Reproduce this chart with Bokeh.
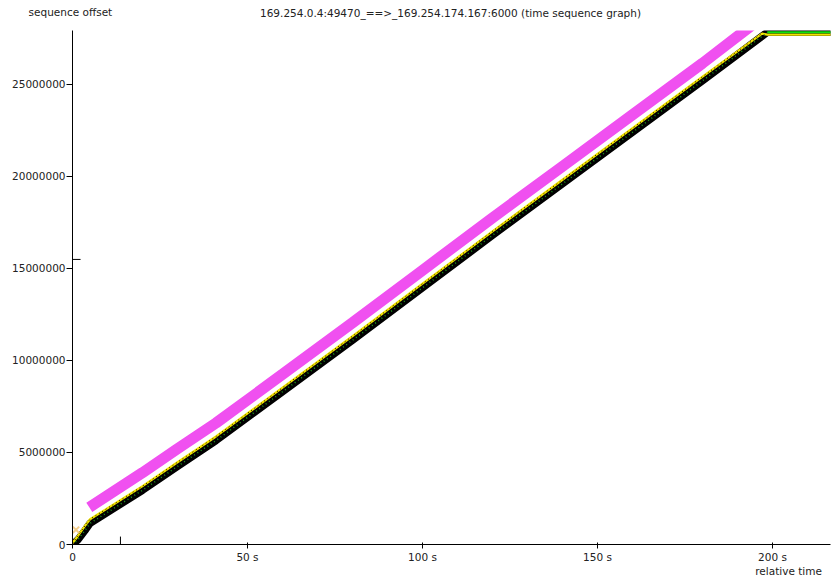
from bokeh.plotting import figure
from bokeh.models import Label, FixedTicker, NumeralTickFormatter, Range1d
from bokeh.embed import file_html
from bokeh.resources import INLINE

title_text = "169.254.0.4:49470_==>_169.254.174.167:6000 (time sequence graph)"
y_axis_title = "sequence offset"
x_axis_title = "relative time"

x_ticks = [0, 50, 100, 150, 200]
x_tick_labels = ["0", "50 s", "100 s", "150 s", "200 s"]
y_ticks = [0, 5000000, 10000000, 15000000, 20000000, 25000000]

# data segments (black band)
seg_time = [0, 1.5, 3.5, 5, 20, 30, 41, 60, 80, 100, 120, 140, 160, 180, 198.5, 217]
seg_seq = [0, 0.25e6, 0.75e6, 1.15e6, 2.95e6, 4.25e6, 5.65e6, 8.3e6, 11.1e6,
           13.95e6, 16.8e6, 19.6e6, 22.4e6, 25.2e6, 27.83e6, 27.83e6]

# ack line (yellow)
ack_time = [0, 1.5, 3.5, 5, 20, 30, 41, 60, 80, 100, 120, 140, 160, 180, 197, 198.5, 217]
ack_seq = [0.08e6, 0.45e6, 1.0e6, 1.37e6, 3.17e6, 4.47e6, 5.87e6, 8.52e6, 11.32e6,
           14.17e6, 17.02e6, 19.82e6, 22.62e6, 25.42e6, 27.76e6, 27.71e6, 27.71e6]

# advertised window (magenta band)
win_time = [4.8, 20, 30, 41, 60, 80, 100, 120, 140, 160, 180, 194]
win_seq = [2.02e6, 3.9e6, 5.2e6, 6.6e6, 9.25e6, 12.05e6, 14.9e6, 17.75e6,
           20.55e6, 23.35e6, 26.15e6, 28.2e6]

# SYN marker near origin
syn_time = [1.0]
syn_seq = [0.8e6]

# hash marks on the axes
xhash_time = [13.7]
yhash_seq = [15.49e6]

FONT = "DejaVu Sans"
TXT = "#222222"
FS = "10.5px"

p = figure(width=836, height=577, output_backend="svg", toolbar_location=None,
           x_range=Range1d(0, 216.57), y_range=Range1d(0, 27.93e6),
           min_border_left=72, min_border_right=6, min_border_top=30, min_border_bottom=33)
p.outline_line_color = None
p.grid.visible = False
p.background_fill_color = "white"
p.border_fill_color = "white"

# axes
p.xaxis.ticker = FixedTicker(ticks=x_ticks)
p.xaxis.major_label_overrides = {t: l for t, l in zip(x_ticks, x_tick_labels)}
p.yaxis.ticker = FixedTicker(ticks=y_ticks)
p.yaxis.formatter = NumeralTickFormatter(format="0")
for ax in (p.xaxis, p.yaxis):
    ax.axis_line_color = "black"
    ax.axis_line_width = 1
    ax.major_tick_line_color = "black"
    ax.minor_tick_line_color = None
    ax.major_label_text_font = FONT
    ax.major_label_text_font_size = FS
    ax.major_label_text_color = TXT
p.xaxis.major_tick_out = 4
p.xaxis.major_tick_in = 2
p.xaxis.major_label_standoff = 2
p.yaxis.major_tick_out = 6
p.yaxis.major_tick_in = 0
p.yaxis.major_label_standoff = 1

# magenta window band
p.line(win_time, win_seq, line_color="#f050f0", line_width=11, line_cap="butt")

# black data segment band
p.line(seg_time, seg_seq, line_color="black", line_width=7.5, line_join="round")

# yellow ack line with black dots, on the upper edge of the band
p.line(ack_time, ack_seq, line_color="#f2e200", line_width=2.2)
p.line(ack_time[:-2], ack_seq[:-2], line_color="black", line_width=1, line_dash="1 3")

# green dots inside black band
p.line(seg_time[:-1], seg_seq[:-1], line_color="#1f9a1f", line_width=1.5, line_dash="1 3")
p.line(seg_time[-2:], seg_seq[-2:], line_color="#10e010", line_width=2)

# SYN mark
p.scatter(syn_time, syn_seq, marker="x", size=9, line_color="#f3c577", line_width=2, alpha=0.85)

# hash marks
p.segment(x0=xhash_time, y0=[0], x1=xhash_time, y1=[0.43e6], line_color="black", line_width=1)
p.segment(x0=[0], y0=yhash_seq, x1=[2.3], y1=yhash_seq, line_color="black", line_width=1)

# texts (placed in side panels so they are not clipped by the frame)
p.add_layout(Label(x=108, y=28.86e6, text=title_text, text_align="center",
                   text_baseline="middle", text_font=FONT, text_font_size=FS,
                   text_color=TXT), "above")
p.add_layout(Label(x=-0.6, y=28.91e6, text=y_axis_title, text_align="center",
                   text_baseline="middle", text_font=FONT, text_font_size=FS,
                   text_color=TXT), "above")
p.add_layout(Label(x=204.6, y=-1.413e6, text=x_axis_title, text_align="center",
                   text_baseline="middle", text_font=FONT, text_font_size=FS,
                   text_color=TXT), "below")

open("out.html", "w").write(file_html(p, INLINE))
